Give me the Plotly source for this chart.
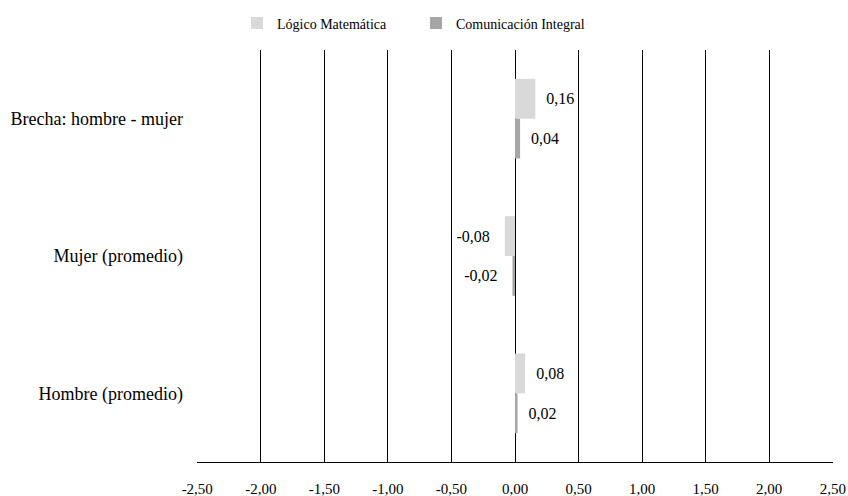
import plotly.graph_objects as go

categories = ["Hombre (promedio)", "Mujer (promedio)", "Brecha: hombre - mujer"]
logico = [0.08, -0.08, 0.16]
comunicacion = [0.02, -0.02, 0.04]
tick_vals = [-2.5, -2.0, -1.5, -1.0, -0.5, 0.0, 0.5, 1.0, 1.5, 2.0, 2.5]
tick_text = ["-2,50", "-2,00", "-1,50", "-1,00", "-0,50", "0,00", "0,50", "1,00", "1,50", "2,00", "2,50"]

FONT = "Times New Roman"
NB = "\u00a0"

def fmt(v):
    s = f"{v:.2f}".replace(".", ",")
    return (s + NB * 3) if v < 0 else (NB * 2 + s)

fig = go.Figure()
fig.add_trace(go.Bar(
    y=categories, x=comunicacion, orientation="h", name="Comunicación Integral",
    marker=dict(color="#a6a6a6", line=dict(width=0)),
    text=[fmt(v) for v in comunicacion], textposition="outside",
    textfont=dict(family=FONT, size=16, color="#000"), cliponaxis=False,
))
fig.add_trace(go.Bar(
    y=categories, x=logico, orientation="h", name="Lógico Matemática",
    marker=dict(color="#d9d9d9", line=dict(width=0)),
    text=[fmt(v) for v in logico], textposition="outside",
    textfont=dict(family=FONT, size=16, color="#000"), cliponaxis=False,
))

fig.update_layout(
    width=848, height=496,
    margin=dict(l=197, r=15, t=50, b=34),
    paper_bgcolor="white", plot_bgcolor="white",
    barmode="group", bargap=0.42, bargroupgap=0,
    font=dict(family=FONT, size=14, color="#000"),
    legend=dict(orientation="h", traceorder="reversed", xref="container", x=237 / 848, xanchor="left",
                yref="container", y=0.985, yanchor="top",
                font=dict(family=FONT, size=14, color="#000"), itemwidth=30,
                entrywidthmode="pixels", entrywidth=134),
    xaxis=dict(range=[-2.502, 2.502], tickvals=tick_vals, ticktext=tick_text,
               showgrid=True, gridcolor="#000", gridwidth=1, zeroline=False,
               showline=True, linecolor="#000", linewidth=1, automargin=False,
               ticklabelstandoff=13, tickfont=dict(family=FONT, size=15, color="#000")),
    yaxis=dict(showgrid=False, zeroline=False, showline=False, automargin=False,
               ticklabelstandoff=13, tickfont=dict(family=FONT, size=18, color="#000")),
)

fig.write_html("out.html")
